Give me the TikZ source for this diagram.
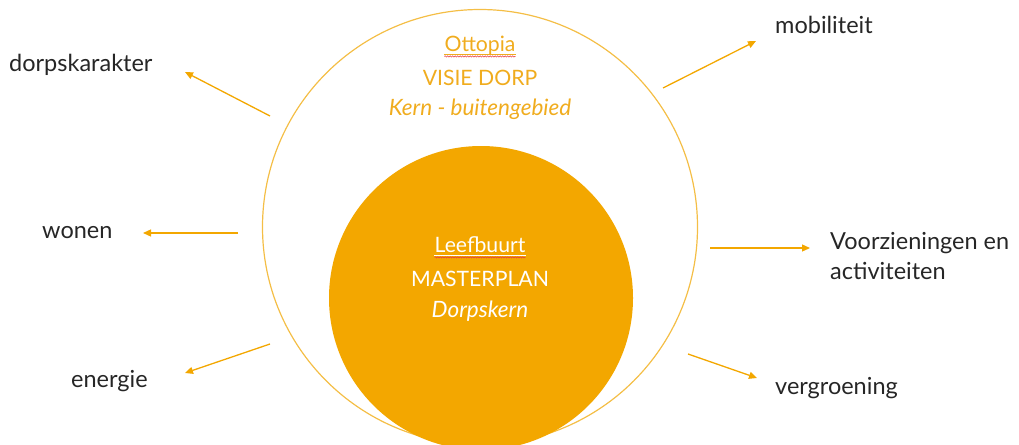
\documentclass[tikz,border=0pt]{standalone}
\usepackage{fontspec}
\setmainfont{Lato}
\usetikzlibrary{arrows.meta,decorations.pathmorphing}
\definecolor{gold}{RGB}{243,167,0}
\definecolor{goldline}{RGB}{244,190,70}
\definecolor{goldtext}{RGB}{240,172,30}
\definecolor{labelgrey}{RGB}{38,38,38}
\definecolor{spellred}{RGB}{230,60,60}
\tikzset{
  lbl/.style={text=labelgrey, font=\fontsize{23.5}{28}\selectfont, inner sep=0pt},
  outertext/.style={text=goldtext, font=\fontsize{21.2}{25}\selectfont, inner sep=0pt},
  innertext/.style={text=white, font=\fontsize{21.2}{25}\selectfont, inner sep=0pt},
  itfont/.style={font=\fontsize{22.5}{26}\selectfont\itshape},
  conn/.style={draw=gold, line width=1.3pt, -{Triangle[length=8pt,width=7pt]}},
  squiggle/.style={draw=spellred, line width=0.5pt, decorate, decoration={snake, amplitude=0.7pt, segment length=2.5pt}}
}
\begin{document}
\begin{tikzpicture}[x=1pt,y=-1pt]
\useasboundingbox (0,0) rectangle (1019,444);
\begin{scope}
\clip (0,0) rectangle (1019,444);
% outer circle
\node[draw=goldline, line width=1.2pt, circle, minimum size=435pt, inner sep=0pt] (outer) at (480,227) {};
% inner filled circle
\node[fill=gold, circle, minimum size=304pt, inner sep=0pt] (inner) at (481,298) {};
\end{scope}
% outer texts
\node[outertext] (ott) at (480,46) {Ottopia};
\draw[goldtext, line width=0.8pt] ([yshift=-2.5pt]ott.base west) -- ([yshift=-2.5pt]ott.base east);
\path[squiggle] ([yshift=-4.5pt]ott.base west) -- ([yshift=-4.5pt]ott.base east);
\node[outertext] (visie) at (480,78) {VISIE DORP};
\node[outertext, itfont] (kern) at (480,109) {Kern - buitengebied};
% inner texts
\node[innertext] (leef) at (480,245) {Leefbuurt};
\draw[white, line width=0.8pt] ([yshift=-2.5pt]leef.base west) -- ([yshift=-2.5pt]leef.base east);
\path[squiggle] ([yshift=-4.5pt]leef.base west) -- ([yshift=-4.5pt]leef.base east);
\node[innertext] (master) at (480,279) {MASTERPLAN};
\node[innertext, itfont] (dorps) at (480,311) {Dorpskern};
% labels
\node[lbl, anchor=west] (dorpskarakter) at (9,65) {dorpskarakter};
\node[lbl, anchor=west] (mobiliteit) at (775,25) {mobiliteit};
\node[lbl, anchor=north west, align=left, font=\fontsize{23.5}{30}\selectfont] (voorz) at (830,232) {Voorzieningen en\\activiteiten};
\node[lbl, anchor=west] (wonen) at (42,233) {wonen};
\node[lbl, anchor=west] (energie) at (71,381) {energie};
\node[lbl, anchor=west] (vergroening) at (775,388) {vergroening};
% connector ends
\coordinate (sDk) at (270,116); \coordinate (eDk) at (185,72);
\coordinate (sMo) at (663,88);  \coordinate (eMo) at (756,41);
\coordinate (sVo) at (710,248); \coordinate (eVo) at (810,248);
\coordinate (sWo) at (238,233); \coordinate (eWo) at (143,233);
\coordinate (sEn) at (270,344); \coordinate (eEn) at (185,373);
\coordinate (sVe) at (688,354); \coordinate (eVe) at (757,378);
\draw[conn] (sDk) -- (eDk);
\draw[conn] (sMo) -- (eMo);
\draw[conn] (sVo) -- (eVo);
\draw[conn] (sWo) -- (eWo);
\draw[conn] (sEn) -- (eEn);
\draw[conn] (sVe) -- (eVe);
\end{tikzpicture}
\end{document}
